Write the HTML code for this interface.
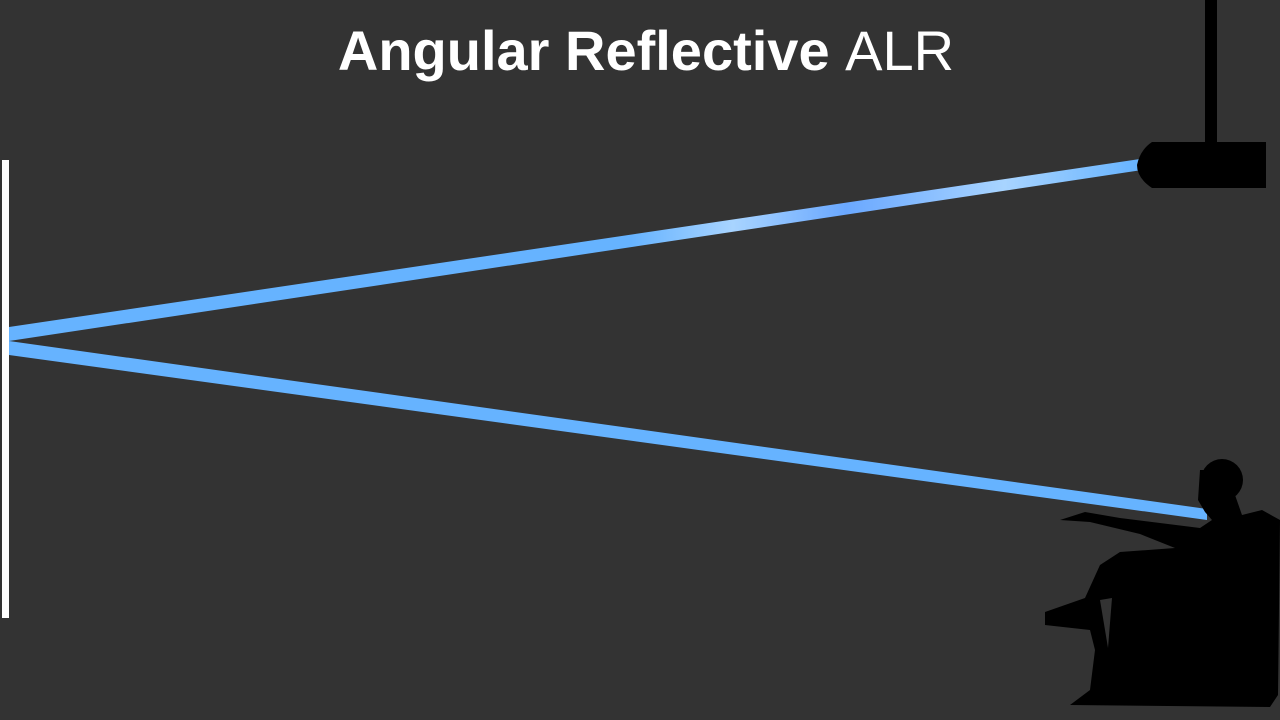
<!DOCTYPE html>
<html><head><style>
body{margin:0;background:#333;}
.t{position:absolute;left:0;width:1280px;top:18px;text-align:center;color:#fff;font-family:"Liberation Sans",sans-serif;font-size:56px;padding-left:12px;box-sizing:border-box;}
</style></head><body>
<div style="position:relative;width:1280px;height:720px;overflow:hidden;background:#333">
<div class="t"><b>Angular Reflective</b> <span style="font-weight:300">ALR</span></div>
<svg width="1280" height="720" style="position:absolute;left:0;top:0">
<defs><linearGradient id="g" x1="1140" y1="0" x2="9" y2="0" gradientUnits="userSpaceOnUse">
<stop offset="0" stop-color="#66b3ff"/><stop offset="0.12" stop-color="#a8d4ff"/><stop offset="0.26" stop-color="#6aa8ff"/><stop offset="0.36" stop-color="#a8d4ff"/><stop offset="0.45" stop-color="#66b3ff"/><stop offset="1" stop-color="#66b3ff"/></linearGradient></defs>
<rect x="2" y="160" width="7" height="458" fill="#fff"/>
<polygon points="9,327 1140,159 1142,170 9,341" fill="url(#g)"/>
<polygon points="9,341 1207,509 1207,520 9,355" fill="#66b3ff"/>
<rect x="1205" y="0" width="12" height="145" fill="#000"/>
<path d="M1152,142 L1266,142 L1266,188 L1152,188 Q1137,178 1137,165 Q1140,150 1152,142 Z" fill="#000"/>
<g fill="#000">
<circle cx="1222" cy="480" r="21"/>
<path d="M1200,470 L1198,500 L1205,512 L1212,520 L1200,528 L1120,518 L1085,512 L1060,520 L1090,522 L1140,534 L1175,548 L1120,552 L1100,565 L1085,598 L1045,612 L1045,625 L1090,630 L1095,650 L1090,690 L1070,705 L1270,707 L1278,695 L1280,520 L1262,510 L1242,515 L1235,495 L1228,470 Z"/>
</g>
<path d="M1100,600 L1112,598 L1108,648 Z" fill="#333"/>
</svg>
</div>
</body></html>
